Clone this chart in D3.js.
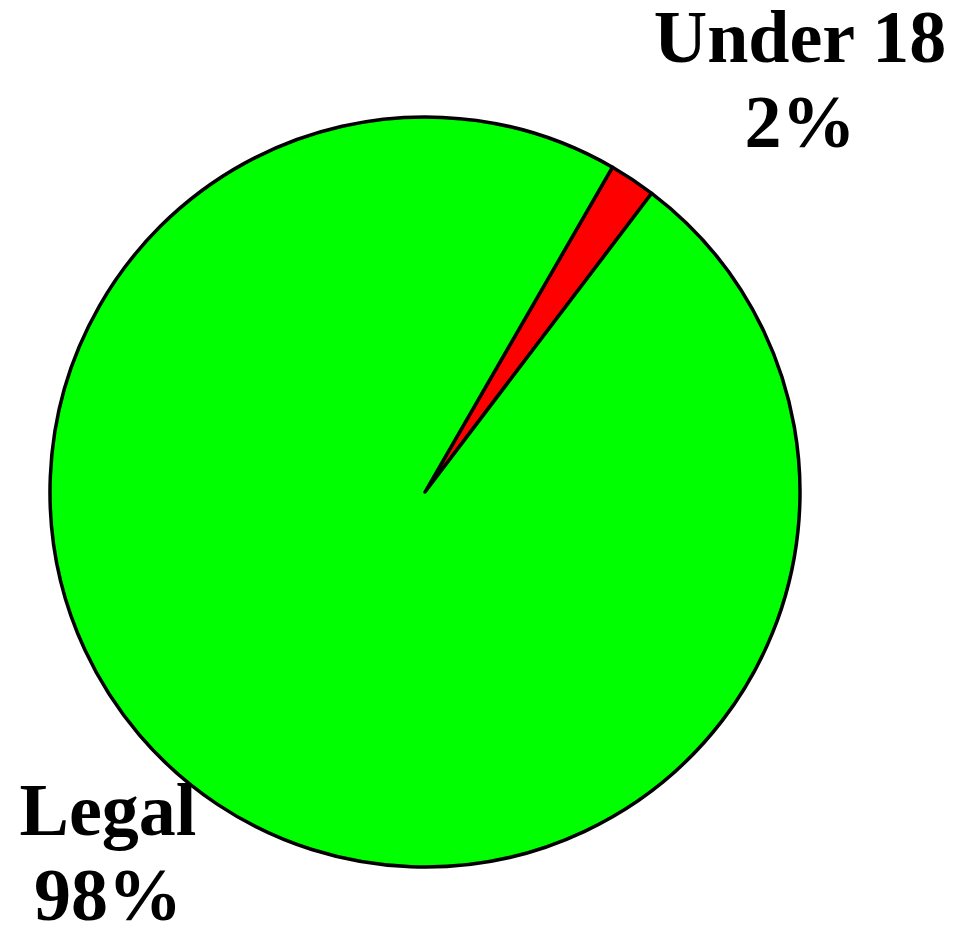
<!DOCTYPE html>
<html>
<head>
<meta charset="utf-8">
<script src="https://cdn.jsdelivr.net/npm/d3@7"></script>
<style>
  html, body { margin: 0; padding: 0; background: #fff; }
  svg { display: block; }
</style>
</head>
<body>
<svg id="chart" width="958" height="928"></svg>
<script>
// Share of cases by age group
const categories = ["Under 18", "Legal"];
const values = [2, 98];
const percentLabels = ["2%", "98%"];
const colors = ["#ff0000", "#00ff00"];

const width = 958, height = 928;
const cx = 425, cy = 492, radius = 375;
const startDeg = 30;

const svg = d3.select("#chart");

const data = categories.map((c, i) => ({ category: c, value: values[i], label: percentLabels[i] }));

const pie = d3.pie()
  .sort(null)
  .value(d => d.value)
  .startAngle(startDeg * Math.PI / 180)
  .endAngle(startDeg * Math.PI / 180 + 2 * Math.PI);

const arc = d3.arc().innerRadius(0).outerRadius(radius);

const color = d3.scaleOrdinal().domain(categories).range(colors);

const g = svg.append("g").attr("transform", `translate(${cx},${cy})`);

g.selectAll("path")
  .data(pie(data))
  .join("path")
  .attr("d", arc)
  .attr("fill", d => color(d.data.category))
  .attr("stroke", "#000")
  .attr("stroke-width", 3.5)
  .attr("stroke-linejoin", "round");

// Slice labels, two lines each
const labelPos = { "Under 18": [800, 62], "Legal": [108, 835] };
const lineGap = 85;

data.forEach(d => {
  const [x, y] = labelPos[d.category];
  const t = svg.append("text")
    .attr("x", x)
    .attr("y", y)
    .attr("text-anchor", "middle")
    .attr("font-family", "'Liberation Serif', 'Times New Roman', serif")
    .attr("font-weight", "bold")
    .attr("font-size", 74)
    .attr("fill", "#000");
  t.append("tspan").attr("x", x).text(d.category);
  t.append("tspan").attr("x", x).attr("dy", lineGap).text(d.label);
});
</script>
</body>
</html>
